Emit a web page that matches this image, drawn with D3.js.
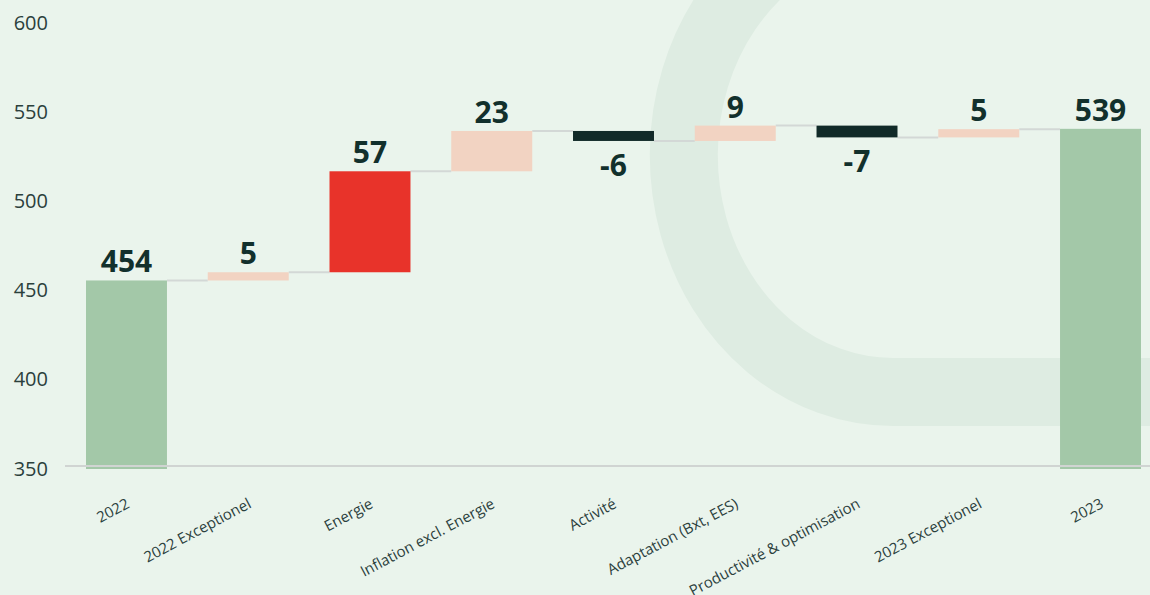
<!DOCTYPE html>
<html>
<head>
<meta charset="utf-8">
<script src="https://cdn.jsdelivr.net/npm/d3@7"></script>
<style>
  html, body { margin: 0; padding: 0; background: #eaf4ec; }
  svg { display: block; font-family: "Open Sans", "Noto Sans", sans-serif; }
</style>
</head>
<body>
<div class="chart"></div>
<script>
// chart data
const categories = ['2022', '2022 Exceptionel', 'Energie', 'Inflation excl. Energie', 'Activité',
    'Adaptation (Bxt, EES)', 'Productivité & optimisation', '2023 Exceptionel', '2023'];
const startValue = 454;
const endValue = 539;
const deltas = [4.6, 56.6, 22.6, -5.6, 8.6, -6.6, 4.6];
const yTicks = [350, 400, 450, 500, 550, 600];
const highlight = 'Energie';

const [width, height] = [1150, 595];

// build waterfall steps: first and last are totals
let level = startValue;
const steps = [{ name: categories[0], from: 350, to: startValue, value: startValue, total: true }];
deltas.forEach((d, i) => {
    steps.push({ name: categories[i + 1], from: level, to: level + d, value: d, total: false });
    level += d;
});
steps.push({ name: categories[8], from: 350, to: endValue, value: endValue, total: true });

const x = d3.scaleBand()
    .domain(categories)
    .range([86, 1141])
    .paddingInner(0.335)
    .paddingOuter(0);

const y = d3.scaleLinear()
    .domain([350, 600])
    .range([466, 20]);

const colour = d => {
    if (d.total) return '#a3c8a8';
    if (d.name === highlight) return '#e8332a';
    return d.value < 0 ? '#112a28' : '#f2d3c2';
};

const svg = d3.select('div.chart')
    .append('svg')
    .attr('width', width)
    .attr('height', height);

svg.append('rect')
    .attr('width', width)
    .attr('height', height)
    .attr('fill', '#eaf4ec');

// background decoration (big rounded stroke behind the chart)
svg.append('path')
    .attr('d', 'M774,-40 A209,237 0 0 0 893,392 L1200,392')
    .attr('fill', 'none')
    .attr('stroke', '#deece2')
    .attr('stroke-width', 68);

// y axis labels
const yAxis = svg.append('g')
    .attr('transform', 'translate(48,0)')
    .call(d3.axisLeft(y).tickValues(yTicks).tickSize(0).tickPadding(0));
yAxis.select('.domain').remove();
yAxis.selectAll('text')
    .attr('dy', '0.45em')
    .attr('fill', '#2b403c')
    .style('font-size', '20px')
    .style('font-family', '"Open Sans", sans-serif');

// connectors between bars
svg.append('g')
    .selectAll('line')
    .data(steps.slice(0, -1))
    .enter()
    .append('line')
    .attr('x1', d => x(d.name) + x.bandwidth())
    .attr('x2', (d, i) => x(steps[i + 1].name))
    .attr('y1', d => y(d.to))
    .attr('y2', d => y(d.to))
    .attr('stroke', '#d3d8d6')
    .attr('stroke-width', 2);

// bars
svg.append('g')
    .selectAll('rect')
    .data(steps)
    .enter()
    .append('rect')
    .attr('x', d => x(d.name))
    .attr('width', x.bandwidth())
    .attr('y', d => y(Math.max(d.from, d.to)))
    .attr('height', d => Math.abs(y(d.from) - y(d.to)) + (d.total ? 3 : 0))
    .attr('fill', colour);

// baseline at 350
svg.append('line')
    .attr('x1', 65)
    .attr('x2', width)
    .attr('y1', y(350))
    .attr('y2', y(350))
    .attr('stroke', '#d0d4d2')
    .attr('stroke-width', 2);

// value labels (plain hyphen for negatives, like the original)
svg.append('g')
    .selectAll('text')
    .data(steps)
    .enter()
    .append('text')
    .attr('x', d => x(d.name) + x.bandwidth() / 2)
    .attr('y', d => d.value < 0 ? y(d.to) + 35 : y(Math.max(d.from, d.to)) - 8)
    .attr('text-anchor', 'middle')
    .attr('fill', '#12302c')
    .style('font-size', '30px')
    .style('font-weight', 700)
    .text(d => String(Math.round(d.value)));

// category labels
const xAxis = svg.append('g')
    .attr('transform', `translate(0,${y(350)})`)
    .call(d3.axisBottom(x).tickSize(0));
xAxis.select('.domain').remove();
xAxis.selectAll('text')
    .attr('x', 0)
    .attr('y', 0)
    .attr('dy', 0)
    .attr('transform', 'translate(4,41) rotate(-28)')
    .attr('text-anchor', 'end')
    .attr('fill', '#2b403c')
    .style('font-size', '15px')
    .style('font-family', '"Open Sans", sans-serif');
</script>
</body>
</html>
